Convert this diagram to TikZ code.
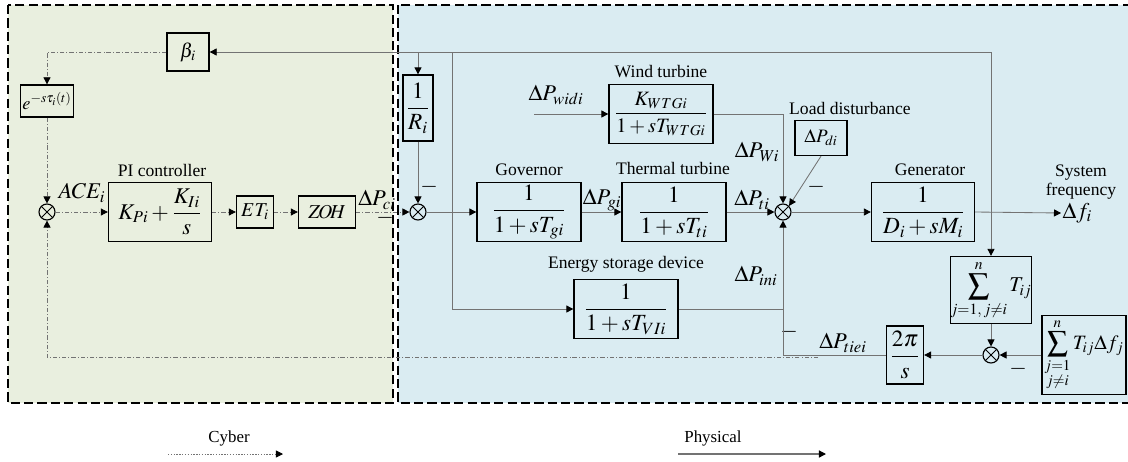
\documentclass[tikz,border=0pt]{standalone}
\usepackage{amsmath}
\usepackage{mathptmx}
\usepackage{fontspec}
\setmainfont{Liberation Serif}
\usetikzlibrary{arrows.meta}

\definecolor{cyberbg}{RGB}{233,239,223}
\definecolor{physbg}{RGB}{218,236,242}
\definecolor{wire}{RGB}{115,115,115}

\tikzset{
  blk/.style={draw, line width=0.9pt, inner sep=0pt, font=\fontsize{16.5}{18}\selectfont},
  smallblk/.style={blk, font=\fontsize{14}{16}\selectfont},
  sumjunc/.style={draw, circle, line width=0.8pt, minimum size=0.4cm, inner sep=0pt,
    path picture={\draw[line width=0.6pt]
      (path picture bounding box.north west) -- (path picture bounding box.south east)
      (path picture bounding box.north east) -- (path picture bounding box.south west);}},
  lbl/.style={font=\fontsize{12.5}{13.5}\selectfont, align=center, inner sep=1pt},
  sig/.style={font=\fontsize{16}{18}\selectfont, inner sep=1pt},
  phys/.style={draw=wire, line width=0.6pt},
  cyber/.style={draw=wire, line width=0.5pt, dash pattern=on 3pt off 1.5pt on 0.6pt off 1.5pt},
  zone/.style={line width=1.1pt, dash pattern=on 6.5pt off 3pt},
}

\begin{document}
\begin{tikzpicture}[x=0.025cm, y=-0.025cm, >={Triangle[length=5pt,width=5pt,color=black]}]
\useasboundingbox (0,0) rectangle (1128,461);

% cyber and physical layers
\fill[cyberbg] (8,5) rectangle (393,403);
\fill[physbg] (398,5) rectangle (1135,403);
\draw[zone] (8,5) rectangle (393,403);
\draw[zone] (398,5) rectangle (1135,403);

% cyber side
\node[smallblk, minimum width=1.05cm, minimum height=0.95cm] (beta) at (188,52) {$\beta_i$};
\node[smallblk, font=\fontsize{13}{15}\selectfont, minimum width=1.325cm, minimum height=0.8cm] (delay) at (47,101) {$e^{-s\tau_i(t)}$};
\node[sumjunc] (sumc) at (47,212) {};
\node[blk, font=\fontsize{16}{18}\selectfont, minimum width=2.575cm, minimum height=1.475cm] (pi) at (160,212) {$K_{Pi}+\dfrac{K_{Ii}}{s}$};
\node[smallblk, minimum width=0.925cm, minimum height=0.8cm] (et) at (255,212) {$ET_i$};
\node[smallblk, minimum width=1.425cm, minimum height=0.8cm] (zoh) at (327,212) {$Z\!O\!H$};

% physical side
\node[sumjunc] (suma) at (418,212) {};
\node[blk, minimum width=0.75cm, minimum height=1.65cm] (ri) at (418,108) {$\dfrac{1}{R_i}$};
\node[blk, minimum width=2.6cm, minimum height=1.475cm] (gov) at (529,212) {$\dfrac{1}{1+sT_{gi}}$};
\node[blk, minimum width=2.6cm, minimum height=1.475cm] (tt) at (674,212) {$\dfrac{1}{1+sT_{ti}}$};
\node[blk, font=\fontsize{14.5}{16}\selectfont, minimum width=2.6cm, minimum height=1.475cm] (wind) at (661,114) {$\dfrac{K_{WTGi}}{1+sT_{WTGi}}$};
\node[smallblk, font=\fontsize{13.5}{15}\selectfont, minimum width=1.3cm, minimum height=0.875cm] (load) at (821,138) {$\Delta P_{di}$};
\node[sumjunc] (sumb) at (783,212) {};
\node[blk, minimum width=2.6cm, minimum height=1.475cm] (esd) at (626,309) {$\dfrac{1}{1+sT_{VIi}}$};
\node[blk, minimum width=2.575cm, minimum height=1.475cm] (gen) at (923,212) {$\dfrac{1}{D_i+sM_i}$};
\node[blk, minimum width=0.925cm, minimum height=1.45cm] (twopi) at (905,355) {$\dfrac{2\pi}{s}$};
\node[sumjunc] (sumd) at (991,355) {};
\node[smallblk, font=\fontsize{15}{17}\selectfont, minimum width=1.85cm, minimum height=1.675cm] (tij) at (991,290) {$\displaystyle\sum_{j=1,\,j\neq i}^{n} T_{ij}$};
\node[smallblk, font=\fontsize{14.5}{16}\selectfont, minimum width=2.1cm, minimum height=1.975cm] (tdf) at (1084,355) {$\displaystyle\sum_{\substack{j=1\\ j\neq i}}^{n} T_{ij}\Delta f_j$};
\node[sig, anchor=west] (dfi) at (1061,213) {$\Delta f_i$};

\coordinate (fsplit) at (991,212);
\coordinate (rtap) at (418,52);
\coordinate (etap) at (452,52);
\coordinate (winp) at (534,114);
\coordinate (tietap) at (818,357.5);

% block titles
\node[lbl] (pilbl) at (162,170) {PI controller};
\node[lbl] (govlbl) at (529,170) {Governor};
\node[lbl] (ttlbl) at (673,168) {Thermal turbine};
\node[lbl] (windlbl) at (661,72) {Wind turbine};
\node[lbl] (loadlbl) at (850,108) {Load disturbance};
\node[lbl] (esdlbl) at (626,264) {Energy storage device};
\node[lbl] (genlbl) at (930,170) {Generator};
\node[lbl] (freqlbl) at (1081,182) {System\\frequency};

% signal names
\node[sig] (acelbl) at (82,193) {$ACE_i$};
\node[sig] (pcilbl) at (377,200) {$\Delta P_{ci}$};
\node[sig] (pwidilbl) at (556,95) {$\Delta P_{widi}$};
\node[sig] (pgilbl) at (602,200) {$\Delta P_{gi}$};
\node[sig] (ptilbl) at (752,200) {$\Delta P_{ti}$};
\node[sig] (pwilbl) at (757,152) {$\Delta P_{Wi}$};
\node[sig] (pinilbl) at (756,276) {$\Delta P_{ini}$};
\node[sig] (ptieilbl) at (843,343) {$\Delta P_{tiei}$};

% signs
\node[sig] (mci) at (385,218) {$-$};
\node[sig] (mri) at (429,187) {$-$};
\node[sig] (mdi) at (816,187) {$-$};
\node[sig] (mini) at (789,332) {$-$};
\node[sig] (mtdf) at (1018,369) {$-$};

% cyber links
\draw[cyber,->] (beta.west) -| (delay.north);
\draw[cyber,->] (delay.south) -- (sumc.north);
\draw[cyber,->] (sumc.east) -- (pi.west);
\draw[cyber,->] (pi.east) -- (et.west);
\draw[cyber,->] (et.east) -- (zoh.west);
\draw[cyber,->] (zoh.east) -- (suma.west);
\draw[cyber,->] (tietap) -| (sumc.south);

% physical links
\draw[phys,->] (fsplit) |- (beta.east);
\draw[phys,->] (rtap) -- (ri.north);
\draw[phys,->] (ri.south) -- (suma.north);
\draw[phys,->] (etap) |- (esd.west);
\draw[phys,->] (suma.east) -- (gov.west);
\draw[phys,->] (gov.east) -- (tt.west);
\draw[phys,->] (tt.east) -- (sumb.west);
\draw[phys,->] (sumb.east) -- (gen.west);
\draw[phys,->] (gen.east) -- (dfi.west);
\draw[phys,->] (winp) -- (wind.west);
\draw[phys,->] (wind.east) -| (sumb.north);
\draw[phys,->] (load.south) -- (sumb.north east);
\draw[phys] (esd.east) -- (esd.east -| sumb);
\draw[phys,->] (twopi.west) -| (sumb.south);
\draw[phys,->] (sumd.west) -- (twopi.east);
\draw[phys,->] (fsplit) -- (tij.north);
\draw[phys,->] (tij.south) -- (sumd.north);
\draw[phys,->] (tdf.west) -- (sumd.east);

% legend
\node[lbl, font=\fontsize{12}{13}\selectfont] (cyberkey) at (229,438) {Cyber};
\node[lbl, font=\fontsize{12}{13}\selectfont] (physkey) at (713,438) {Physical};
\coordinate (ck0) at (168,454);
\coordinate (ck1) at (283,454);
\coordinate (pk0) at (678,454);
\coordinate (pk1) at (826,454);
\draw[draw=wire, line width=0.6pt, dash pattern=on 1pt off 1pt, ->] (ck0) -- (ck1);
\draw[draw=wire, line width=0.9pt, ->] (pk0) -- (pk1);
\end{tikzpicture}
\end{document}
